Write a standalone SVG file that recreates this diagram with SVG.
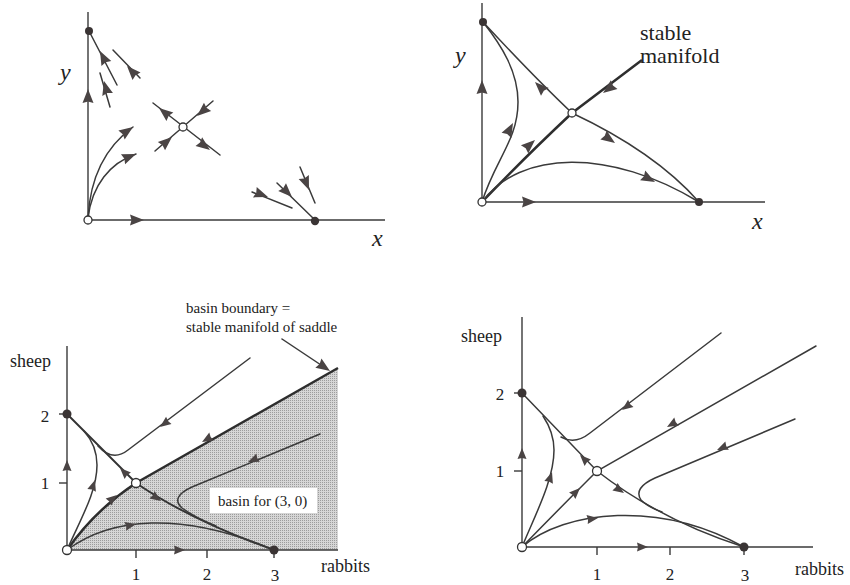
<svg xmlns="http://www.w3.org/2000/svg" xmlns:xlink="http://www.w3.org/1999/xlink" width="850" height="585" viewBox="0 0 850 585">
<style>
  .ax { stroke:#3a3a3a; stroke-width:1.4; fill:none; }
  .tr { stroke:#3a3a3a; stroke-width:1.5; fill:none; stroke-linecap:round; }
  .thick { stroke:#2e2e2e; stroke-width:2.5; fill:none; }
  .mid { stroke:#333; stroke-width:1.9; fill:none; }
  .ah { fill:#4a4444; }
  .dot { fill:#3a3434; }
  .open { fill:#fff; stroke:#333; stroke-width:1.3; }
  .lbl { font-family:"Liberation Serif","Times New Roman",serif; fill:#222; }
  .it { font-style:italic; font-size:24px; }
  .num { font-size:17px; }
  .name { font-size:18px; }
  .note { font-size:15px; }
</style>
<defs>
  <path id="ah" d="M0,0 L-14,-5.5 L-12.5,0 L-14,5.5 Z"/>
  <path id="as" d="M0,0 L-11,-4.5 L-10,0 L-11,4.5 Z"/>
  <pattern id="stip" width="2" height="2" patternUnits="userSpaceOnUse">
    <rect width="2" height="2" fill="#d6d6d6"/>
    <rect width="1" height="1" fill="#9c9c9c"/>
  </pattern>
</defs>

<!-- Panel A: top-left -->
<g id="panelA">
  <g id="A-axes">
    <line class="ax" x1="88" y1="12" x2="88" y2="220"/>
    <line class="ax" x1="88" y1="220" x2="385" y2="220"/>
    <text class="lbl it" x="60" y="80">y</text>
    <text class="lbl it" x="372" y="246">x</text>
  </g>
  <g id="A-connectors">
    <path class="tr" d="M88,218 C90,180 104,148 133,127"/>
    <path class="tr" d="M88,218 C92,185 110,163 136,154"/>
    <line class="tr" x1="89" y1="31" x2="117" y2="85"/>
    <line class="tr" x1="113" y1="50" x2="140" y2="78"/>
    <line class="tr" x1="100" y1="73" x2="110" y2="107"/>
    <line class="tr" x1="153" y1="103" x2="220" y2="155"/>
    <line class="tr" x1="155" y1="151" x2="213" y2="101"/>
    <line class="tr" x1="252" y1="192" x2="292" y2="208"/>
    <line class="tr" x1="277" y1="183" x2="315" y2="220"/>
    <line class="tr" x1="300" y1="167" x2="315" y2="203"/>
    <g class="ah">
      <use xlink:href="#ah" transform="translate(88,89) rotate(-90)"/>
      <use xlink:href="#ah" transform="translate(144,220)"/>
      <use xlink:href="#ah" transform="translate(133,127) rotate(-35)"/>
      <use xlink:href="#ah" transform="translate(136,154) rotate(-22)"/>
      <use xlink:href="#ah" transform="translate(100,51) rotate(-117)"/>
      <use xlink:href="#ah" transform="translate(127,66) rotate(-133)"/>
      <use xlink:href="#ah" transform="translate(104,81) rotate(-105)"/>
      <use xlink:href="#ah" transform="translate(159,108) rotate(-141)"/>
      <use xlink:href="#ah" transform="translate(197,116) rotate(139)"/>
      <use xlink:href="#ah" transform="translate(172,137) rotate(-41)"/>
      <use xlink:href="#ah" transform="translate(210,150) rotate(37)"/>
      <use xlink:href="#ah" transform="translate(268,197) rotate(20)"/>
      <use xlink:href="#ah" transform="translate(292,197) rotate(45)"/>
      <use xlink:href="#ah" transform="translate(309,190) rotate(68)"/>
    </g>
  </g>
  <g id="A-origin"><circle class="open" cx="88" cy="220" r="4"/></g>
  <g id="A-ystable"><circle class="dot" cx="89" cy="31" r="4"/></g>
  <g id="A-saddle"><circle class="open" cx="183" cy="127" r="4"/></g>
  <g id="A-xstable"><circle class="dot" cx="315" cy="221" r="4.2"/></g>
</g>

<!-- Panel B: top-right -->
<g id="panelB">
  <g id="B-axes">
    <line class="ax" x1="482" y1="3" x2="482" y2="202"/>
    <line class="ax" x1="482" y1="202" x2="765" y2="202"/>
    <text class="lbl it" x="455" y="63">y</text>
    <text class="lbl it" x="752" y="229">x</text>
    <text class="lbl" x="640" y="40" style="font-size:22px">stable</text>
    <text class="lbl" x="640" y="63" style="font-size:22px">manifold</text>
  </g>
  <g id="B-connectors">
    <path class="thick" d="M482,202 Q522,160 572,113 L642,60"/>
    <path class="tr" d="M483,22 Q535,78 572,113 Q655,152 699,202"/>
    <path class="tr" d="M482,202 C495,160 518,140 518,102 C518,72 502,46 483,22"/>
    <path class="tr" d="M482,202 C520,150 610,148 699,202"/>
    <g class="ah">
      <use xlink:href="#ah" transform="translate(482,80) rotate(-90)"/>
      <use xlink:href="#ah" transform="translate(536,202)"/>
      <use xlink:href="#ah" transform="translate(603,93) rotate(143)"/>
      <use xlink:href="#ah" transform="translate(535,140) rotate(-42)"/>
      <use xlink:href="#ah" transform="translate(535,82) rotate(-135)"/>
      <use xlink:href="#ah" transform="translate(615,143) rotate(35)"/>
      <use xlink:href="#ah" transform="translate(513,123) rotate(-62)"/>
      <use xlink:href="#ah" transform="translate(655,182) rotate(28)"/>
    </g>
  </g>
  <g id="B-origin"><circle class="open" cx="482" cy="202" r="4"/></g>
  <g id="B-ystable"><circle class="dot" cx="483" cy="22" r="4"/></g>
  <g id="B-saddle"><circle class="open" cx="572" cy="113" r="4"/></g>
  <g id="B-xstable"><circle class="dot" cx="699" cy="202" r="4"/></g>
</g>

<!-- Panel C: bottom-left -->
<g id="panelC">
  <path fill="url(#stip)" d="M67,550 Q95,510 136,483 L338,368 L338,550 Z"/>
  <g id="C-axes">
    <line class="ax" x1="67" y1="346" x2="67" y2="550"/>
    <line class="ax" x1="67" y1="550" x2="338" y2="550"/>
    <line class="ax" x1="59" y1="414" x2="67" y2="414"/>
    <line class="ax" x1="59" y1="483" x2="67" y2="483"/>
    <line class="ax" x1="136" y1="550" x2="136" y2="558"/>
    <line class="ax" x1="207" y1="550" x2="207" y2="558"/>
    <line class="ax" x1="274" y1="550" x2="274" y2="558"/>
    <text class="lbl name" x="10" y="367">sheep</text>
    <text class="lbl num" x="45" y="422" text-anchor="middle">2</text>
    <text class="lbl num" x="45" y="489" text-anchor="middle">1</text>
    <text class="lbl num" x="136" y="580" text-anchor="middle">1</text>
    <text class="lbl num" x="207" y="580" text-anchor="middle">2</text>
    <text class="lbl num" x="275" y="581" text-anchor="middle">3</text>
    <text class="lbl name" x="321" y="572">rabbits</text>
    <text class="lbl note" x="186" y="313">basin boundary =</text>
    <text class="lbl note" x="186" y="332">stable manifold of saddle</text>
  </g>
  <g id="C-basin-label">
    <rect x="210" y="488" width="107" height="25" fill="#fff"/>
    <text class="lbl note" x="218" y="506">basin for (3, 0)</text>
  </g>
  <g id="C-connectors">
    <path class="thick" d="M67,550 Q95,510 136,483 L338,368"/>
    <path class="mid" d="M67,414 L136,483 Q190,520 274,550"/>
    <path class="tr" d="M250,358 L128,450 C118,458 108,457 98,446"/>
    <path class="tr" d="M67,550 C80,520 97,492 97,465 C97,450 92,440 84,431"/>
    <path class="tr" d="M320,434 L192,487 Q170,497 182,508 Q194,517 216,526"/>
    <path class="tr" d="M67,550 C110,518 180,510 274,550"/>
    <line class="tr" x1="282" y1="339" x2="324" y2="367"/>
    <g class="ah">
      <use xlink:href="#as" transform="translate(67,460) rotate(-90)"/>
      <use xlink:href="#as" transform="translate(185,550)"/>
      <use xlink:href="#as" transform="translate(120,468) rotate(-135)"/>
      <use xlink:href="#as" transform="translate(161,501) rotate(35)"/>
      <use xlink:href="#as" transform="translate(117,495) rotate(-40)"/>
      <use xlink:href="#as" transform="translate(202,442) rotate(150)"/>
      <use xlink:href="#as" transform="translate(160,427) rotate(143)"/>
      <use xlink:href="#as" transform="translate(95,480) rotate(-72)"/>
      <use xlink:href="#as" transform="translate(248,462) rotate(157)"/>
      <use xlink:href="#as" transform="translate(136,524) rotate(-12)"/>
      <use xlink:href="#ah" transform="translate(330,371) rotate(34)"/>
    </g>
  </g>
  <g id="C-origin"><circle class="open" cx="67" cy="550" r="4.5"/></g>
  <g id="C-sheep-only"><circle class="dot" cx="67" cy="414" r="4.5"/></g>
  <g id="C-saddle"><circle class="open" cx="136" cy="483" r="4.5"/></g>
  <g id="C-rabbits-only"><circle class="dot" cx="274" cy="550" r="4.5"/></g>
</g>

<!-- Panel D: bottom-right -->
<g id="panelD">
  <g id="D-axes">
    <line class="ax" x1="522" y1="317" x2="522" y2="547"/>
    <line class="ax" x1="522" y1="547" x2="813" y2="547"/>
    <line class="ax" x1="514" y1="393" x2="522" y2="393"/>
    <line class="ax" x1="514" y1="471" x2="522" y2="471"/>
    <line class="ax" x1="597" y1="547" x2="597" y2="555"/>
    <line class="ax" x1="670" y1="547" x2="670" y2="555"/>
    <line class="ax" x1="744" y1="547" x2="744" y2="555"/>
    <text class="lbl name" x="461" y="342">sheep</text>
    <text class="lbl num" x="500" y="400" text-anchor="middle">2</text>
    <text class="lbl num" x="500" y="477" text-anchor="middle">1</text>
    <text class="lbl num" x="597" y="580" text-anchor="middle">1</text>
    <text class="lbl num" x="670" y="580" text-anchor="middle">2</text>
    <text class="lbl num" x="745" y="581" text-anchor="middle">3</text>
    <text class="lbl name" x="795" y="575">rabbits</text>
  </g>
  <g id="D-connectors">
    <path class="tr" d="M522,547 Q560,508 597,471 L816,346"/>
    <path class="tr" d="M522,393 L597,471 Q660,520 744,547"/>
    <path class="tr" d="M721,333 L590,433 Q575,445 561,437"/>
    <path class="tr" d="M522,547 C535,515 554,480 554,450 C554,436 549,425 543,416"/>
    <path class="tr" d="M795,419 L655,478 Q633,488 641,500 Q648,507 662,512"/>
    <path class="tr" d="M522,547 C565,510 660,500 744,547"/>
    <g class="ah">
      <use xlink:href="#as" transform="translate(522,448) rotate(-90)"/>
      <use xlink:href="#as" transform="translate(648,547)"/>
      <use xlink:href="#as" transform="translate(580,488) rotate(-45)"/>
      <use xlink:href="#as" transform="translate(667,427) rotate(150)"/>
      <use xlink:href="#as" transform="translate(580,455) rotate(-135)"/>
      <use xlink:href="#as" transform="translate(624,493) rotate(35)"/>
      <use xlink:href="#as" transform="translate(622,410) rotate(143)"/>
      <use xlink:href="#as" transform="translate(552,472) rotate(-72)"/>
      <use xlink:href="#as" transform="translate(717,450) rotate(157)"/>
      <use xlink:href="#as" transform="translate(598,518) rotate(-8)"/>
    </g>
  </g>
  <g id="D-origin"><circle class="open" cx="522" cy="547" r="4.5"/></g>
  <g id="D-sheep-only"><circle class="dot" cx="522" cy="393" r="4.5"/></g>
  <g id="D-saddle"><circle class="open" cx="597" cy="471" r="4.5"/></g>
  <g id="D-rabbits-only"><circle class="dot" cx="744" cy="547" r="4.5"/></g>
</g>
</svg>
